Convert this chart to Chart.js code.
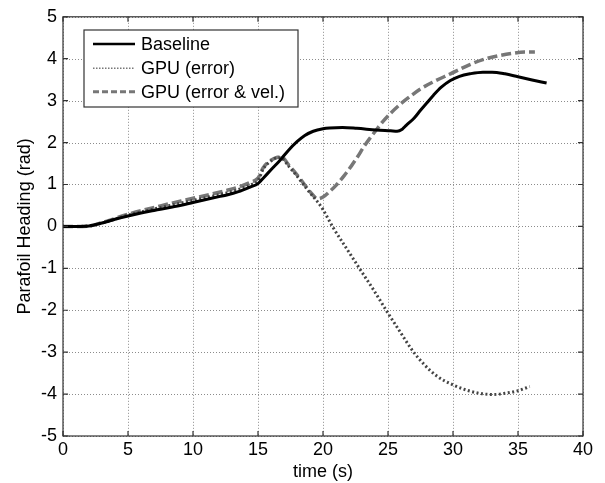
<!DOCTYPE html>
<html>
<head>
<meta charset="utf-8">
<script src="https://cdn.jsdelivr.net/npm/chart.js@4/dist/chart.umd.min.js"></script>
<style>
html,body{margin:0;padding:0;background:#fff;}
#wrap{width:605px;height:483px;position:relative;}
</style>
</head>
<body>
<div id="wrap"><canvas id="c" width="605" height="483"></canvas></div>
<script>
// ---- data ----
const xTicks = [0, 5, 10, 15, 20, 25, 30, 35, 40];
const yTicks = [-5, -4, -3, -2, -1, 0, 1, 2, 3, 4, 5];
const seriesNames = ["Baseline", "GPU (error)", "GPU (error & vel.)"];

const tBase = [0,1,2,3,4,5,6,7,7.5,9,10,11,12,12.6,13.5,14.4,15,15.4,16,16.7,17.3,18,18.6,19.25,20,20.5,21.5,22.6,24.1,25.2,25.7,26.1,26.4,27,27.5,28,28.5,29.1,29.8,30.5,31.3,32.3,33,34,35,36,37.2];
const yBase = [0,0,0.01,0.08,0.17,0.25,0.32,0.38,0.41,0.5,0.57,0.64,0.71,0.75,0.83,0.94,1.02,1.15,1.35,1.58,1.8,2.02,2.17,2.27,2.33,2.35,2.36,2.34,2.3,2.28,2.27,2.32,2.41,2.58,2.77,2.95,3.13,3.32,3.48,3.58,3.64,3.68,3.68,3.64,3.57,3.5,3.42];

const tGpuErr = [0,1,2,3,5,7.5,10,12.6,13.5,14.4,15,15.4,16,16.5,16.8,17.4,18,18.5,19,19.6,20,20.8,21.8,22.8,23.9,24.9,25.9,26.9,27.8,28.8,30,31.2,32.2,33.1,34,35,35.9];
const yGpuErr = [0,0,0.01,0.08,0.27,0.45,0.62,0.8,0.88,0.99,1.09,1.37,1.56,1.64,1.63,1.42,1.2,1.0,0.8,0.58,0.4,-0.04,-0.52,-1.0,-1.52,-2.02,-2.5,-2.97,-3.3,-3.58,-3.78,-3.92,-3.99,-4.01,-3.98,-3.92,-3.82];

const tGpuVel = [0,1,2,3,5,7.5,10,12.6,13.5,14.4,15,15.4,16,16.5,16.8,17.4,18,18.5,19,19.6,20,20.5,21,21.6,22.2,22.7,23.1,23.6,24.1,24.6,25.2,26,26.7,27.5,28.5,29.8,31.3,32.3,33.5,34.6,35.5,36.3];
const yGpuVel = [0,0,0.01,0.09,0.29,0.49,0.67,0.86,0.94,1.05,1.15,1.4,1.58,1.65,1.66,1.45,1.23,1.03,0.83,0.66,0.7,0.83,0.98,1.2,1.45,1.68,1.88,2.1,2.3,2.5,2.7,2.93,3.1,3.28,3.45,3.64,3.86,3.98,4.07,4.13,4.16,4.16];

const pts = (ts, ys) => ts.map((t, i) => ({x: t, y: ys[i]}));

const FONT = "'Liberation Sans', Arial, sans-serif";

const legendStyles = [
  {color: '#000000', width: 2.5, dash: []},
  {color: '#777777', width: 1.5, dash: [1.5, 1.5]},
  {color: '#777777', width: 3, dash: [6, 3]}
];

const gridPlugin = {
  id: 'gridPlugin',
  beforeDatasetsDraw(chart) {
    const {ctx, chartArea: a, scales} = chart;
    ctx.save();
    ctx.strokeStyle = '#8c8c8c';
    ctx.lineWidth = 1;
    ctx.setLineDash([1, 2]);
    ctx.beginPath();
    xTicks.forEach(v => {
      const x = Math.round(scales.x.getPixelForValue(v)) + 0.5;
      ctx.moveTo(x, a.top); ctx.lineTo(x, a.bottom);
    });
    yTicks.forEach(v => {
      const y = Math.round(scales.y.getPixelForValue(v)) + 0.5;
      ctx.moveTo(a.left, y); ctx.lineTo(a.right, y);
    });
    ctx.stroke();
    ctx.restore();
  }
};

const boxPlugin = {
  id: 'boxPlugin',
  afterDraw(chart) {
    const {ctx, chartArea: a, scales} = chart;
    ctx.save();
    ctx.strokeStyle = '#333';
    ctx.lineWidth = 1.2;
    ctx.setLineDash([]);
    ctx.strokeRect(a.left, a.top, a.right - a.left, a.bottom - a.top);
    ctx.beginPath();
    const L = 5;
    xTicks.forEach(v => {
      const x = scales.x.getPixelForValue(v);
      ctx.moveTo(x, a.bottom); ctx.lineTo(x, a.bottom - L);
      ctx.moveTo(x, a.top); ctx.lineTo(x, a.top + L);
    });
    yTicks.forEach(v => {
      const y = scales.y.getPixelForValue(v);
      ctx.moveTo(a.left, y); ctx.lineTo(a.left + L, y);
      ctx.moveTo(a.right, y); ctx.lineTo(a.right - L, y);
    });
    ctx.stroke();

    const bx = 84, by = 30, bw = 214, bh = 77;
    ctx.fillStyle = '#fff';
    ctx.fillRect(bx, by, bw, bh);
    ctx.strokeStyle = '#333';
    ctx.lineWidth = 1.2;
    ctx.strokeRect(bx, by, bw, bh);
    const rows = [44, 68.3, 91.7];
    ctx.font = '18px ' + FONT;
    ctx.textBaseline = 'middle';
    ctx.textAlign = 'left';
    chart.data.datasets.forEach((ds, i) => {
      const s = legendStyles[i];
      ctx.beginPath();
      ctx.strokeStyle = s.color;
      ctx.lineWidth = s.width;
      ctx.setLineDash(s.dash);
      ctx.moveTo(93, rows[i]);
      ctx.lineTo(135, rows[i]);
      ctx.stroke();
      ctx.setLineDash([]);
      ctx.fillStyle = '#000';
      ctx.fillText(ds.label, 141, rows[i] + 1);
    });
    ctx.restore();
  }
};

new Chart(document.getElementById('c'), {
  type: 'line',
  data: {
    datasets: [
      {label: seriesNames[0], data: pts(tBase, yBase), borderColor: '#000000', borderWidth: 3, pointRadius: 0, cubicInterpolationMode: 'monotone', fill: false},
      {label: seriesNames[1], data: pts(tGpuErr, yGpuErr), borderColor: '#444444', borderWidth: 3, borderDash: [2, 2.5], pointRadius: 0, cubicInterpolationMode: 'monotone', fill: false},
      {label: seriesNames[2], data: pts(tGpuVel, yGpuVel), borderColor: '#777777', borderWidth: 3.5, borderDash: [10, 4], pointRadius: 0, cubicInterpolationMode: 'monotone', fill: false}
    ]
  },
  options: {
    responsive: false,
    animation: false,
    devicePixelRatio: 1,
    layout: {padding: {top: 14.5, right: 22, bottom: 0, left: 0}},
    plugins: {legend: {display: false}, tooltip: {enabled: false}},
    scales: {
      x: {
        type: 'linear', min: 0, max: 40,
        afterFit(s) { s.height = 47; },
        afterBuildTicks(s) { s.ticks = xTicks.map(v => ({value: v})); },
        grid: {display: false, drawTicks: false},
        border: {display: false},
        ticks: {color: '#000', padding: 3.5, font: {size: 18, family: FONT}, maxRotation: 0, autoSkip: false},
        title: {display: true, text: 'time (s)', color: '#000', font: {size: 18, family: FONT}, padding: {top: 0, bottom: 0}}
      },
      y: {
        type: 'linear', min: -5, max: 5,
        afterFit(s) { s.width = 63; },
        afterBuildTicks(s) { s.ticks = yTicks.map(v => ({value: v})); },
        grid: {display: false, drawTicks: false},
        border: {display: false},
        ticks: {color: '#000', padding: 6, font: {size: 18, family: FONT}, autoSkip: false},
        title: {display: true, text: 'Parafoil Heading (rad)', color: '#000', font: {size: 18, family: FONT}, padding: {top: 14, bottom: 0}}
      }
    }
  },
  plugins: [gridPlugin, boxPlugin]
});
</script>
</body>
</html>
